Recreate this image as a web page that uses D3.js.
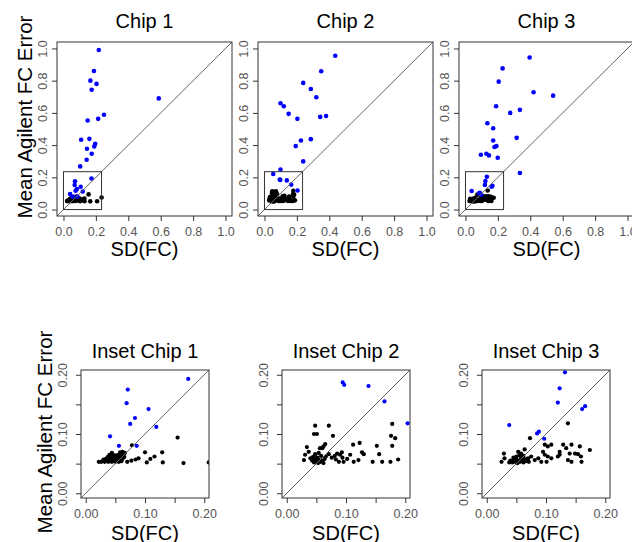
<!DOCTYPE html>
<html>
<head>
<meta charset="utf-8">
<script src="https://cdn.jsdelivr.net/npm/d3@7"></script>
<style>
  body { margin: 0; background: #fff; }
  text { font-family: "Liberation Sans", Arial, sans-serif; }
</style>
</head>
<body>
<div id="main"></div>
<script>
// chip titles
const chipTitles = ["Chip 1", "Chip 2", "Chip 3"];
const insetTitles = ["Inset Chip 1", "Inset Chip 2", "Inset Chip 3"];

// tick values for the full view and the inset view
const fullTicks = [0, 0.2, 0.4, 0.6, 0.8, 1.0];
const insetTicks = [0, 0.05, 0.10, 0.15, 0.20];
const insetLabelTicks = [0, 0.10, 0.20];
const insetBox = [0, 0.235];

// points [SD(FC), mean agilent FC error], blue = flagged genes
const blue1 = [[0.218,0.99],[0.188,0.86],[0.166,0.80],[0.204,0.78],[0.174,0.744],[0.588,0.69],
  [0.25,0.588],[0.149,0.553],[0.214,0.563],[0.109,0.433],[0.16,0.439],[0.196,0.408],[0.19,0.392],
  [0.145,0.377],[0.174,0.346],[0.143,0.309],[0.103,0.268],
  [0.173,0.193],[0.071,0.175],[0.069,0.152],[0.106,0.142],[0.083,0.127],[0.075,0.117],
  [0.119,0.112],[0.041,0.096],[0.056,0.080],[0.086,0.080]];
const black1 = [[0.022,0.053],[0.026,0.053],[0.029,0.054],[0.032,0.053],[0.035,0.055],[0.038,0.053],
  [0.041,0.054],[0.044,0.053],[0.047,0.055],[0.050,0.053],[0.053,0.054],[0.056,0.053],[0.060,0.054],
  [0.030,0.057],[0.034,0.058],[0.039,0.057],[0.043,0.058],[0.048,0.057],[0.052,0.058],[0.057,0.057],
  [0.062,0.058],[0.037,0.061],[0.041,0.062],[0.046,0.061],[0.051,0.062],[0.056,0.061],[0.061,0.062],
  [0.065,0.061],[0.040,0.065],[0.045,0.066],[0.050,0.064],[0.055,0.065],[0.060,0.066],[0.064,0.065],
  [0.044,0.068],[0.058,0.069],[0.062,0.070],[0.066,0.068],[0.070,0.053],[0.077,0.055],[0.084,0.057],
  [0.089,0.059],[0.078,0.081],[0.100,0.069],[0.129,0.069],[0.116,0.062],[0.109,0.058],[0.103,0.052],
  [0.130,0.052],[0.155,0.094],[0.165,0.051],[0.2075,0.052],[0.235,0.075]];

const blue2 = [[0.437,0.955],[0.350,0.858],[0.239,0.786],[0.286,0.748],[0.320,0.697],[0.099,0.660],
  [0.119,0.641],[0.149,0.594],[0.203,0.563],[0.344,0.575],[0.380,0.581],[0.225,0.429],[0.286,0.437],
  [0.193,0.394],[0.239,0.299],[0.099,0.249],[0.054,0.221],
  [0.0945,0.187],[0.097,0.183],[0.138,0.181],[0.165,0.155],[0.204,0.118]];
const black2 = [[0.048,0.114],[0.071,0.114],[0.046,0.100],[0.051,0.100],[0.078,0.097],[0.178,0.117],
  [0.176,0.097],[0.183,0.093],[0.178,0.080],[0.034,0.078],[0.065,0.083],[0.062,0.079],[0.060,0.076],
  [0.056,0.076],[0.112,0.082],[0.123,0.085],[0.152,0.080],[0.127,0.069],[0.130,0.066],[0.156,0.066],
  [0.188,0.057],[0.175,0.053],[0.161,0.053],[0.145,0.053],[0.121,0.056],[0.113,0.053],[0.107,0.065],
  [0.093,0.069],[0.090,0.065],[0.094,0.060],[0.085,0.067],[0.081,0.063],[0.076,0.060],[0.071,0.066],
  [0.083,0.057],[0.088,0.053],[0.096,0.053],[0.102,0.058],[0.066,0.062],[0.031,0.065],[0.037,0.070],
  [0.029,0.056],[0.040,0.059],[0.046,0.062],[0.043,0.055],[0.046,0.052],[0.049,0.057],[0.050,0.053],
  [0.052,0.060],[0.053,0.051],[0.055,0.056],[0.057,0.053],[0.058,0.063],[0.060,0.055],[0.062,0.051],
  [0.048,0.066],[0.054,0.068],[0.044,0.061],[0.064,0.058]];

const blue3 = [[0.396,0.944],[0.229,0.876],[0.205,0.794],[0.42,0.728],[0.541,0.707],[0.189,0.641],
  [0.336,0.619],[0.276,0.600],[0.135,0.536],[0.171,0.505],[0.316,0.445],[0.171,0.429],[0.191,0.394],
  [0.179,0.388],[0.095,0.340],[0.129,0.346],[0.145,0.336],[0.199,0.322],[0.336,0.227],
  [0.038,0.115],[0.085,0.101],[0.088,0.104],[0.097,0.092],[0.120,0.153],[0.123,0.177],[0.132,0.204],
  [0.161,0.142],[0.166,0.147]];
const black3 = [[0.137,0.118],[0.073,0.093],[0.098,0.082],[0.103,0.079],[0.109,0.082],[0.095,0.070],
  [0.098,0.065],[0.129,0.082],[0.134,0.076],[0.143,0.082],[0.157,0.079],[0.174,0.073],[0.123,0.070],
  [0.140,0.067],[0.149,0.067],[0.154,0.066],[0.159,0.062],[0.137,0.056],[0.143,0.053],[0.160,0.053],
  [0.120,0.062],[0.123,0.065],[0.103,0.062],[0.109,0.059],[0.092,0.053],[0.101,0.053],[0.087,0.059],
  [0.081,0.056],[0.075,0.062],[0.070,0.059],[0.029,0.067],[0.030,0.059],[0.025,0.053],[0.038,0.052],
  [0.053,0.070],[0.058,0.067],[0.064,0.074],[0.040,0.055],[0.043,0.052],[0.046,0.056],[0.048,0.053],
  [0.050,0.058],[0.052,0.051],[0.054,0.055],[0.056,0.053],[0.058,0.060],[0.060,0.055],[0.062,0.052],
  [0.064,0.057],[0.066,0.054],[0.068,0.058],[0.071,0.053],[0.050,0.062],[0.055,0.064],[0.045,0.060],
  [0.062,0.063]];

const blues = [blue1, blue2, blue3];
const blacks = [black1, black2, black3];

const W = 632, H = 542;
const svg = d3.select("#main").append("svg")
  .attr("width", W).attr("height", H);

// top row = full range, bottom row = zoomed inset
const rows = [
  {lefts: [57, 258, 459], top: 42, w: 175, h: 174, max: 1.0, ticks: fullTicks, labels: fullTicks,
   fmt: d3.format(".1f"), titles: chipTitles, titleY: 28, xlabY: 256, ylabX: 31.5, ylabY: 117,
   yTickOff: 14, r: 2.3, inset: true},
  {lefts: [81, 282, 482], top: 370, w: 128, h: 128, max: 0.2, ticks: insetTicks, labels: insetLabelTicks,
   fmt: d3.format(".2f"), titles: insetTitles, titleY: 358, xlabY: 540, ylabX: 51.5, ylabY: 432,
   yTickOff: 18.5, r: 2.1, inset: false}
];

rows.forEach(function(row, ri){
  row.lefts.forEach(function(left, ci){
    let pad = row.max * 0.04;
    let x = d3.scaleLinear().domain([-pad, row.max + pad]).range([0, row.w]);
    let y = d3.scaleLinear().domain([-pad, row.max + pad]).range([row.h, 0]);

    let g = svg.append("g").attr("transform", "translate(" + left + "," + row.top + ")");

    let clipId = "clip" + ri + ci;
    g.append("clipPath").attr("id", clipId)
      .append("rect").attr("width", row.w).attr("height", row.h);

    let plot = g.append("g").attr("clip-path", "url(#" + clipId + ")");

    // black points then blue points
    plot.selectAll("circle.k").data(blacks[ci]).enter().append("circle")
      .attr("class", "k")
      .attr("cx", d => x(d[0])).attr("cy", d => y(d[1]))
      .attr("r", row.r).attr("fill", "#000");
    plot.selectAll("circle.b").data(blues[ci]).enter().append("circle")
      .attr("class", "b")
      .attr("cx", d => x(d[0])).attr("cy", d => y(d[1]))
      .attr("r", row.r).attr("fill", "#0000ff");

    // y = x line
    plot.append("line")
      .attr("x1", x(-pad)).attr("y1", y(-pad))
      .attr("x2", x(row.max + pad)).attr("y2", y(row.max + pad))
      .attr("stroke", "#666").attr("stroke-width", 1);

    // zoom window shown in the top plots
    if (row.inset) {
      g.append("rect")
        .attr("x", x(insetBox[0])).attr("y", y(insetBox[1]))
        .attr("width", x(insetBox[1]) - x(insetBox[0]))
        .attr("height", y(insetBox[0]) - y(insetBox[1]))
        .attr("fill", "none").attr("stroke", "#333").attr("stroke-width", 1);
    }

    // frame
    g.append("rect").attr("width", row.w).attr("height", row.h)
      .attr("fill", "none").attr("stroke", "#333").attr("stroke-width", 1);

    let fmt = function(d){
      return row.labels.some(v => Math.abs(v - d) < 1e-9) ? row.fmt(d) : "";
    };

    // x axis
    let xa = g.append("g").attr("transform", "translate(0," + row.h + ")")
      .call(d3.axisBottom(x).tickValues(row.ticks).tickFormat(fmt).tickSize(5).tickSizeOuter(0));
    xa.select(".domain").remove();
    xa.selectAll("line").attr("stroke", "#333");
    xa.selectAll("text").attr("y", 16).attr("dy", "0.35em")
      .attr("font-size", 12.5).attr("fill", "#555");

    // y axis, labels parallel to the axis
    let ya = g.append("g")
      .call(d3.axisLeft(y).tickValues(row.ticks).tickFormat(fmt).tickSize(5).tickSizeOuter(0));
    ya.select(".domain").remove();
    ya.selectAll("line").attr("stroke", "#333");
    ya.selectAll("text")
      .attr("x", 0).attr("dy", "0.35em")
      .attr("text-anchor", "middle")
      .attr("transform", "translate(" + (-row.yTickOff) + ",0) rotate(-90)")
      .attr("font-size", 12.5).attr("fill", "#555");

    // title and x label
    svg.append("text")
      .attr("x", left + row.w / 2).attr("y", row.titleY)
      .attr("text-anchor", "middle").attr("font-size", 20)
      .text(row.titles[ci]);
    svg.append("text")
      .attr("x", left + row.w / 2).attr("y", row.xlabY)
      .attr("text-anchor", "middle").attr("font-size", 20)
      .text("SD(FC)");
  });

  // y label only on the first column
  svg.append("text")
    .attr("transform", "translate(" + row.ylabX + "," + row.ylabY + ") rotate(-90)")
    .attr("text-anchor", "middle").attr("font-size", 20.5)
    .text("Mean Agilent FC Error");
});
</script>
</body>
</html>
